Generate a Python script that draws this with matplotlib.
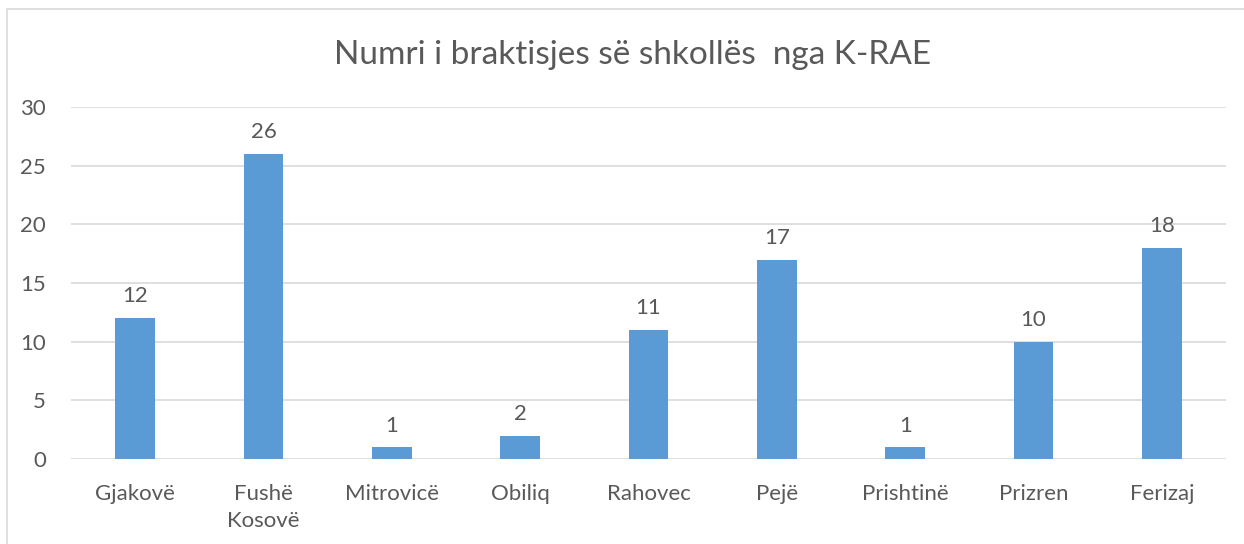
import numpy as np
import matplotlib.pyplot as plt
from matplotlib.patches import Rectangle

plt.rcParams['font.family'] = ['Lato', 'DejaVu Sans']

# Chart data
categories = ["Gjakovë", "Fushë\nKosovë", "Mitrovicë", "Obiliq", "Rahovec",
              "Pejë", "Prishtinë", "Prizren", "Ferizaj"]
values = [12, 26, 1, 2, 11, 17, 1, 10, 18]
title = "Numri i braktisjes së shkollës  nga K-RAE"

W, H = 1244, 544
fig = plt.figure(figsize=(W / 100, H / 100), dpi=100)
# plot area in pixels: x 71..1226, y 107..459
ax = fig.add_axes([71 / W, 1 - 459 / H, (1226 - 71) / W, (459 - 107) / H])

text_col = '#595959'
x = np.arange(len(categories))
ax.bar(x, values, width=0.31, color='#5B9BD5', zorder=3)
for xi, v in zip(x, values):
    ax.text(xi, v + 1.0, str(v), ha='center', va='bottom', fontsize=16, color=text_col)

ax.set_xlim(-0.5, len(categories) - 0.5)
ax.set_ylim(0, 30)
ax.set_yticks(range(0, 31, 5))
ax.set_xticks(x)
ax.set_xticklabels(categories, fontsize=16, color=text_col, linespacing=1.45)
ax.tick_params(axis='y', labelsize=16, labelcolor=text_col, length=0, pad=18)
ax.tick_params(axis='x', length=0, pad=18)
ax.grid(axis='y', color='#D9D9D9', linewidth=1.2, zorder=0)
for s in ax.spines.values():
    s.set_visible(False)

fig.text(633 / W, 1 - 55 / H, title, ha='center', va='center', fontsize=24, color=text_col)

# chart border (only left and top edges are visible in the crop)
fig.patches.append(Rectangle((7 / W, -0.1), 1.2, 1 - 9 / H + 0.1, transform=fig.transFigure,
                             fill=False, edgecolor='#D9D9D9', linewidth=1.2))

fig.savefig('out.png', dpi=100)
